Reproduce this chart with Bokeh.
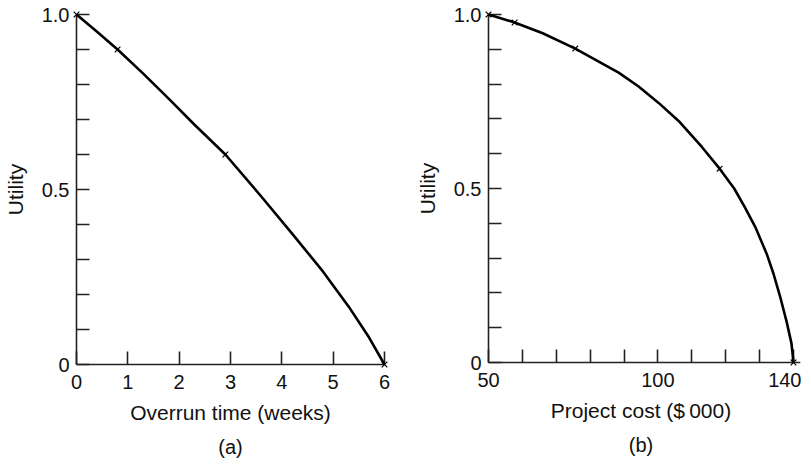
from bokeh.plotting import figure
from bokeh.layouts import row
from bokeh.models import Range1d, FixedTicker, Title, Arrow, NormalHead
from bokeh.embed import file_html
from bokeh.resources import INLINE

# ---------------- data ----------------
# panel (a): utility of overrun time
time_weeks = [0, 0.4, 0.8, 1.3, 1.8, 2.3, 2.9, 3.6, 4.2, 4.8, 5.3, 5.7, 6.0]
util_time = [1.0, 0.951, 0.9, 0.831, 0.759, 0.685, 0.6, 0.48, 0.374, 0.266, 0.166, 0.077, 0.0]
time_marks = [0, 0.8, 2.9, 6.0]
util_time_marks = [1.0, 0.9, 0.6, 0.0]

# panel (b): utility of project cost
cost = [50, 57.7, 66.0, 75.6, 88.4, 94.3, 100.2, 106.1, 112.9, 118.2, 122.5,
        125.7, 128.7, 132.1, 134.1, 136.2, 138.0, 139.4, 140]
util_cost = [1.0, 0.977, 0.946, 0.902, 0.833, 0.793, 0.746, 0.694, 0.62, 0.557, 0.5,
             0.445, 0.39, 0.312, 0.255, 0.184, 0.116, 0.055, 0.0]
cost_marks = [50, 57.7, 75.6, 118.2, 140]
util_cost_marks = [1.0, 0.977, 0.902, 0.557, 0.0]

# ticks
y_major = [0, 0.5, 1.0]
y_minor = [0.1, 0.2, 0.3, 0.4, 0.6, 0.7, 0.8, 0.9]
y_labels = {0: "0", 0.5: "0.5", 1: "1.0"}
x_ticks_a = [0, 1, 2, 3, 4, 5, 6]
x_major_b = [50, 100, 140]
x_minor_b = [60, 70, 80, 90, 110, 120, 130]

FONT = "Liberation Sans"
AXIS_COL = "#222222"


def style(p):
    p.outline_line_color = None
    p.xgrid.visible = False
    p.ygrid.visible = False
    p.background_fill_color = "white"
    p.border_fill_color = "white"
    for ax in (p.xaxis[0], p.yaxis[0]):
        ax.axis_line_color = AXIS_COL
        ax.axis_line_width = 1.6
        ax.major_tick_line_color = AXIS_COL
        ax.minor_tick_line_color = AXIS_COL
        ax.major_tick_line_width = 1.6
        ax.minor_tick_line_width = 1.6
        ax.major_tick_in = 13
        ax.major_tick_out = 0
        ax.minor_tick_in = 13
        ax.minor_tick_out = 0
        ax.major_label_text_font = FONT
        ax.major_label_text_font_size = "20px"
        ax.major_label_text_color = "#111111"
        ax.axis_label_text_font = FONT
        ax.axis_label_text_font_size = "21px"
        ax.axis_label_text_font_style = "normal"
        ax.axis_label_text_color = "#111111"
    p.yaxis[0].ticker = FixedTicker(ticks=y_major, minor_ticks=y_minor)
    p.yaxis[0].major_label_overrides = y_labels
    p.yaxis[0].major_label_standoff = 7
    p.yaxis[0].axis_label_standoff = 12
    p.xaxis[0].major_label_standoff = 10
    p.xaxis[0].axis_label_standoff = 9


def add_caption(p, text):
    t = Title(text=text, align="center", text_font=FONT, text_font_size="20px",
              text_font_style="normal", text_color="#111111", standoff=14)
    p.add_layout(t, "below")


# ---------------- panel (a) ----------------
pa = figure(x_range=Range1d(0, 6), y_range=Range1d(0, 1),
            frame_width=308, frame_height=350,
            min_border_left=74, min_border_right=28, min_border_top=12, min_border_bottom=0,
            x_axis_label="Overrun time (weeks)", y_axis_label="Utility",
            toolbar_location=None, output_backend="svg")
style(pa)
pa.xaxis[0].ticker = FixedTicker(ticks=x_ticks_a)
pa.line(time_weeks, util_time, line_color="black", line_width=2.6, level="overlay")
pa.scatter(time_marks, util_time_marks, marker="x", size=8, line_color="black",
           line_width=1.2, level="overlay")
add_caption(pa, "(a)")

# ---------------- panel (b) ----------------
pb = figure(x_range=Range1d(50, 140), y_range=Range1d(0, 1),
            frame_width=305, frame_height=348,
            min_border_left=72, min_border_right=8, min_border_top=14, min_border_bottom=0,
            x_axis_label="Project cost ($\u2009000)", y_axis_label="Utility",
            toolbar_location=None, output_backend="svg")
style(pb)
pb.xaxis[0].ticker = FixedTicker(ticks=x_major_b, minor_ticks=x_minor_b)
pb.line(cost, util_cost, line_color="black", line_width=2.6, level="overlay")
pb.scatter(cost_marks, util_cost_marks, marker="x", size=8, line_color="black",
           line_width=1.2, level="overlay")
pb.add_layout(Arrow(end=NormalHead(size=8, fill_color="black", line_color="black"),
                    x_start=cost[-1], y_start=0, x_end=cost[-1] + 2.0, y_end=0,
                    line_color=AXIS_COL, line_width=1.6, level="overlay"))
add_caption(pb, "(b)")

layout = row(pa, pb)
open("out.html", "w").write(file_html(layout, INLINE))
